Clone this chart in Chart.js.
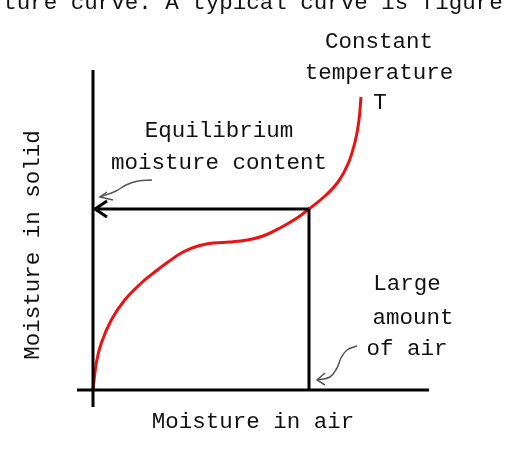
<!DOCTYPE html>
<html>
<head>
<meta charset="utf-8">
<script src="https://cdn.jsdelivr.net/npm/chart.js@4/dist/chart.umd.min.js"></script>
<style>
  body { margin: 0; background: #fff; }
  #wrap { width: 510px; height: 456px; }
</style>
</head>
<body>
<div id="wrap"><canvas id="isotherm" width="510" height="456"></canvas></div>
<script>
// Sorption isotherm sketch
// units: origin at the axes crossing, x to the right, y up
const curveX = [0, 3.3, 8.3, 18.3, 31.7, 48.3, 61.7, 75, 90, 105, 120, 137, 154, 170, 187, 204, 216, 232, 245, 255, 262, 266, 268];
const curveY = [0, 27, 47, 70, 90, 107, 118, 128, 138, 144, 147, 148, 150, 154, 162, 172, 181, 194, 208, 226, 248, 270, 293];

// equilibrium point on the curve
const eqX = 216;
const eqY = 181;

// axes extents
const xAxisX = [-16, 336];
const yAxisY = [-17, 320];

// black arrow head at the y axis
const headX = [14, 2, 14];
const headY = [eqY + 8, eqY, eqY - 8];

// thin grey pointer arrows
const pointer1X = [59, 45, 33, 23, 7];
const pointer1Y = [210, 209, 205, 199, 193];
const pointer1HeadX = [14, 7, 20];
const pointer1HeadY = [198, 193, 190];
const pointer2X = [264, 254, 248, 244, 237, 224];
const pointer2Y = [44, 40, 32, 22, 13, 10];
const pointer2HeadX = [232, 224, 232];
const pointer2HeadY = [17, 10, 5];

// texts and where they sit
const labelText = ['Constant', 'temperature', 'T', 'Equilibrium', 'moisture content', 'Large', 'amount', 'of air', 'Moisture in air'];
const labelX = [286, 286, 287, 126, 126, 314, 320, 314, 160];
const labelY = [348, 317, 287, 259, 227, 106, 72, 41, -32];
const yTitle = 'Moisture in solid';
const topText = 'ture curve. A typical curve is figure';

function pts(xs, ys) {
    return xs.map((x, i) => ({ x: x, y: ys[i] }));
}

function lineSet(data, color, width, tension) {
    return {
        data: data,
        showLine: true,
        borderColor: color,
        borderWidth: width,
        pointRadius: 0,
        fill: false,
        tension: tension || 0,
        borderCapStyle: 'butt',
        borderJoinStyle: 'miter'
    };
}

const FONT = '22.5px "Liberation Mono", "DejaVu Sans Mono", monospace';

const textPlugin = {
    id: 'texts',
    afterDatasetsDraw(chart) {
        const ctx = chart.ctx;
        const xs = chart.scales.x;
        const ys = chart.scales.y;
        ctx.save();
        ctx.fillStyle = '#111';
        ctx.font = FONT;
        ctx.textAlign = 'center';
        ctx.textBaseline = 'middle';
        labelText.forEach((t, i) => {
            ctx.fillText(t, xs.getPixelForValue(labelX[i]), ys.getPixelForValue(labelY[i]));
        });
        // rotated y title
        ctx.save();
        ctx.translate(xs.getPixelForValue(-60), ys.getPixelForValue(145));
        ctx.rotate(-Math.PI / 2);
        ctx.fillText(yTitle, 0, 0);
        ctx.restore();
        // cut-off line of running text at the very top
        ctx.textBaseline = 'alphabetic';
        ctx.fillText(topText, xs.getPixelForValue(160), ys.getPixelForValue(381));
        ctx.restore();
    }
};

new Chart(document.getElementById('isotherm'), {
    type: 'scatter',
    data: {
        datasets: [
            lineSet(pts(xAxisX, [0, 0]), '#000', 3),
            lineSet(pts([0, 0], yAxisY), '#000', 3),
            lineSet(pts([eqX, eqX], [0, eqY]), '#000', 3),
            lineSet(pts([eqX, 2], [eqY, eqY]), '#000', 3),
            lineSet(pts(headX, headY), '#000', 3),
            lineSet(pts(pointer1X, pointer1Y), '#555', 1.5, 0.4),
            lineSet(pts(pointer1HeadX, pointer1HeadY), '#555', 1.5),
            lineSet(pts(pointer2X, pointer2Y), '#555', 1.5, 0.4),
            lineSet(pts(pointer2HeadX, pointer2HeadY), '#555', 1.5),
            lineSet(pts(curveX, curveY), '#ee1111', 3, 0.4)
        ]
    },
    options: {
        responsive: false,
        animation: false,
        clip: false,
        layout: { padding: { left: 77, right: 81, top: 70, bottom: 49 } },
        scales: {
            x: { type: 'linear', display: false, min: xAxisX[0], max: xAxisX[1] },
            y: { type: 'linear', display: false, min: yAxisY[0], max: yAxisY[1] }
        },
        plugins: {
            legend: { display: false },
            tooltip: { enabled: false }
        }
    },
    plugins: [textPlugin]
});
</script>
</body>
</html>
